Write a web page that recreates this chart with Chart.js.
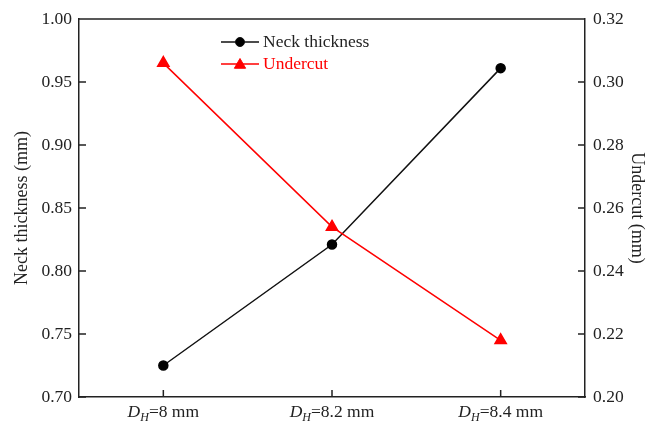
<!DOCTYPE html>
<html>
<head>
<meta charset="utf-8">
<script src="https://cdn.jsdelivr.net/npm/chart.js@4/dist/chart.umd.min.js"></script>
<style>
  html, body { margin: 0; padding: 0; background: #fff; }
  #wrap { width: 654px; height: 424px; position: relative; }
</style>
</head>
<body>
<div id="wrap"><canvas id="c" width="654" height="424"></canvas></div>
<script>
// ---- data ----
const categories = ['D_H=8 mm', 'D_H=8.2 mm', 'D_H=8.4 mm'];
const neckThickness = [0.725, 0.821, 0.961];
const undercut = [0.306, 0.254, 0.218];
const leftTicks = [0.70, 0.75, 0.80, 0.85, 0.90, 0.95, 1.00];
const rightTicks = [0.20, 0.22, 0.24, 0.26, 0.28, 0.30, 0.32];

const FONT = "'Liberation Serif', 'Times New Roman', serif";
Chart.defaults.font.family = FONT;
Chart.defaults.color = '#222';

const frameColor = '#222';

// inward tick marks + top frame line + rich x labels + legend
const framePlugin = {
  id: 'framePlugin',
  afterDraw(chart) {
    const ctx = chart.ctx;
    const a = chart.chartArea;
    const x = chart.scales.x, y = chart.scales.y, y1 = chart.scales.y1;
    const L = 7;
    ctx.save();
    ctx.strokeStyle = frameColor;
    ctx.lineWidth = 1.5;
    ctx.beginPath();
    ctx.moveTo(a.left, a.top); ctx.lineTo(a.right, a.top);
    x.ticks.forEach((t, i) => {
      const px = x.getPixelForTick(i);
      ctx.moveTo(px, a.bottom); ctx.lineTo(px, a.bottom - L);
    });
    y.ticks.forEach(t => {
      const py = y.getPixelForValue(t.value);
      ctx.moveTo(a.left, py); ctx.lineTo(a.left + L, py);
    });
    y1.ticks.forEach(t => {
      const py = y1.getPixelForValue(t.value);
      ctx.moveTo(a.right, py); ctx.lineTo(a.right - L, py);
    });
    ctx.stroke();

    // x labels with italic D and subscript H
    ctx.fillStyle = '#222';
    ctx.textBaseline = 'alphabetic';
    const baseY = x.top + 20;
    chart.data.labels.forEach((lab, i) => {
      const m = lab.match(/^([^_]+)_([^=]+)(.*)$/);
      const main = m ? m[1] : lab, sub = m ? m[2] : '', rest = m ? m[3] : '';
      const fMain = "italic 17.5px " + FONT;
      const fSub = "italic 12px " + FONT;
      const fRest = "17.5px " + FONT;
      ctx.font = fMain; const w1 = ctx.measureText(main).width;
      ctx.font = fSub; const w2 = ctx.measureText(sub).width;
      ctx.font = fRest; const w3 = ctx.measureText(rest).width;
      const cx = x.getPixelForTick(i);
      let sx = cx - (w1 + w2 + w3) / 2;
      ctx.textAlign = 'left';
      ctx.font = fMain; ctx.fillText(main, sx, baseY); sx += w1;
      ctx.font = fSub; ctx.fillText(sub, sx, baseY + 4); sx += w2;
      ctx.font = fRest; ctx.fillText(rest, sx, baseY);
    });

    // legend: line + marker + text
    const lx = 221, lw = 38, ly0 = 42, dy = 22;
    chart.data.datasets.forEach((ds, i) => {
      const ly = ly0 + i * dy;
      ctx.strokeStyle = ds.borderColor;
      ctx.fillStyle = ds.pointBackgroundColor;
      ctx.lineWidth = ds.borderWidth;
      ctx.beginPath(); ctx.moveTo(lx, ly); ctx.lineTo(lx + lw, ly); ctx.stroke();
      ctx.lineWidth = 1;
      Chart.helpers.drawPoint(ctx, {
        pointStyle: ds.pointStyle, radius: ds.pointRadius, borderWidth: 1, rotation: 0
      }, lx + lw / 2, ly + (ds.pointStyle === 'triangle' ? 1 : 0));
      ctx.fillStyle = ds.legendTextColor;
      ctx.font = "17.5px " + FONT;
      ctx.textAlign = 'left';
      ctx.textBaseline = 'middle';
      ctx.fillText(ds.label, lx + lw + 4, ly);
    });
    ctx.restore();
  }
};

new Chart(document.getElementById('c'), {
  type: 'line',
  data: {
    labels: categories,
    datasets: [
      {
        label: 'Neck thickness',
        data: neckThickness,
        yAxisID: 'y',
        borderColor: '#111',
        backgroundColor: '#000',
        pointBackgroundColor: '#000',
        pointBorderColor: '#000',
        pointStyle: 'circle',
        pointRadius: 4.5,
        borderWidth: 1.5,
        tension: 0,
        order: 1,
        legendTextColor: '#222'
      },
      {
        label: 'Undercut',
        data: undercut,
        yAxisID: 'y1',
        borderColor: '#ff0000',
        backgroundColor: '#ff0000',
        pointBackgroundColor: '#ff0000',
        pointBorderColor: '#ff0000',
        pointStyle: 'triangle',
        pointRadius: 6.5,
        borderWidth: 1.5,
        tension: 0,
        order: 0,
        legendTextColor: '#ff0000'
      }
    ]
  },
  options: {
    responsive: false,
    animation: false,
    layout: { padding: { top: 19, left: 0, right: 0, bottom: 0 } },
    plugins: { legend: { display: false }, tooltip: { enabled: false } },
    scales: {
      x: {
        type: 'category',
        offset: true,
        grid: { display: false, drawTicks: false },
        border: { display: true, color: frameColor, width: 1.5 },
        ticks: { display: false },
        afterFit(s) { s.height = 27; }
      },
      y: {
        position: 'left',
        min: 0.70, max: 1.00,
        grid: { display: false, drawTicks: false },
        border: { display: true, color: frameColor, width: 1.5 },
        afterBuildTicks(s) { s.ticks = leftTicks.map(v => ({ value: v })); },
        ticks: {
          padding: 7,
          color: '#222',
          font: { size: 17.5 },
          callback: v => Number(v).toFixed(2)
        },
        title: {
          display: true,
          text: 'Neck thickness (mm)',
          color: '#222',
          font: { size: 18 },
          padding: { top: 11, bottom: 0 }
        },
        afterFit(s) { s.width = 79; }
      },
      y1: {
        position: 'right',
        min: 0.20, max: 0.32,
        grid: { display: false, drawTicks: false },
        border: { display: true, color: frameColor, width: 1.5 },
        afterBuildTicks(s) { s.ticks = rightTicks.map(v => ({ value: v })); },
        ticks: {
          padding: 8,
          color: '#222',
          font: { size: 17.5 },
          callback: v => Number(v).toFixed(2)
        },
        title: {
          display: true,
          text: 'Undercut (mm)',
          color: '#222',
          font: { size: 18 },
          padding: { top: 6, bottom: 0 }
        },
        afterFit(s) { s.width = 69; }
      }
    }
  },
  plugins: [framePlugin]
});
</script>
</body>
</html>
